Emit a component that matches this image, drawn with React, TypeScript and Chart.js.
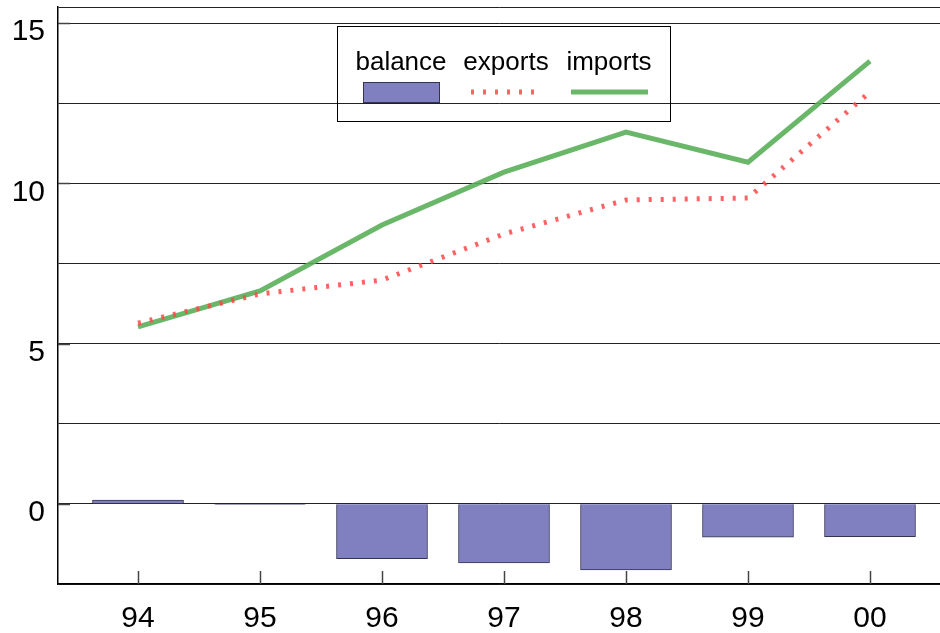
import React, { useEffect, useRef } from "react";
import { Chart, registerables } from "chart.js";

Chart.register(...registerables);

const categories = ["94", "95", "96", "97", "98", "99", "00"];
const balance = [0.12, -0.02, -1.71, -1.84, -2.06, -1.04, -1.02];
const exportsData = [5.64, 6.55, 6.98, 8.42, 9.48, 9.54, 12.85];
const importsData = [5.52, 6.64, 8.7, 10.35, 11.6, 10.66, 13.81];
const yTickLabels = [0, 5, 10, 15];
const yGridValues = [-2.5, 0, 2.5, 5, 7.5, 10, 12.5, 15, 15.5];

const FONT = "'Liberation Sans', Arial, sans-serif";

const legendPlugin = {
  id: "customLegend",
  afterDatasetsDraw(chart: any) {
    const ctx = chart.ctx;
    ctx.save();
    const xs = chart.scales.x;
    const ys = chart.scales.y;
    const area = chart.chartArea;
    ctx.strokeStyle = "#444";
    ctx.lineWidth = 1.5;
    categories.forEach((_, i) => {
      const px = Math.round(xs.getPixelForValue(i)) + 0.5;
      ctx.beginPath();
      ctx.moveTo(px, area.bottom);
      ctx.lineTo(px, area.bottom - 13);
      ctx.stroke();
    });
    yTickLabels.forEach((v) => {
      const py = Math.round(ys.getPixelForValue(v)) + 0.5;
      ctx.beginPath();
      ctx.moveTo(area.left, py);
      ctx.lineTo(area.left + 12, py);
      ctx.stroke();
    });
    ctx.strokeStyle = "#000";
    ctx.lineWidth = 1;
    ctx.strokeRect(337.5, 26.5, 333, 95);
    ctx.fillStyle = "#000";
    ctx.font = `26px ${FONT}`;
    ctx.textAlign = "center";
    ctx.textBaseline = "alphabetic";
    const names = ["balance", "exports", "imports"];
    const centers = [401, 506, 609];
    names.forEach((n, i) => ctx.fillText(n, centers[i], 70));
    ctx.fillStyle = "#8080c0";
    ctx.fillRect(363, 82, 76, 20);
    ctx.strokeStyle = "#333355";
    ctx.lineWidth = 1;
    ctx.strokeRect(363.5, 82.5, 76, 20);
    ctx.strokeStyle = "rgba(255,70,70,0.85)";
    ctx.lineWidth = 5;
    ctx.setLineDash([3, 9]);
    ctx.beginPath();
    ctx.moveTo(471, 92);
    ctx.lineTo(543, 92);
    ctx.stroke();
    ctx.setLineDash([]);
    ctx.strokeStyle = "rgba(90,175,90,0.9)";
    ctx.lineWidth = 5;
    ctx.beginPath();
    ctx.moveTo(571, 92);
    ctx.lineTo(648, 92);
    ctx.stroke();
    ctx.restore();
  },
};

export default function App() {
  const ref = useRef<HTMLCanvasElement>(null);
  useEffect(() => {
    const canvas = ref.current!;
    const chart = new Chart(canvas, {
      type: "bar",
      data: {
        datasets: [
          {
            type: "bar",
            label: "balance",
            data: balance.map((v, i) => ({ x: i, y: v })),
            backgroundColor: "#8080c0",
            borderColor: "#333355",
            borderWidth: 1,
            barThickness: 91,
            order: 3,
          } as any,
          {
            type: "line",
            label: "imports",
            data: importsData.map((v, i) => ({ x: i, y: v })),
            borderColor: "rgba(90,175,90,0.9)",
            borderWidth: 5,
            pointRadius: 0,
            tension: 0,
            fill: false,
            order: 2,
          },
          {
            type: "line",
            label: "exports",
            data: exportsData.map((v, i) => ({ x: i, y: v })),
            borderColor: "rgba(255,70,70,0.85)",
            borderWidth: 5,
            borderDash: [3, 9],
            pointRadius: 0,
            tension: 0,
            fill: false,
            order: 1,
          },
        ],
      },
      options: {
        animation: false,
        responsive: false,
        devicePixelRatio: 1,
        layout: { padding: { top: 7, left: 0, right: 0, bottom: 0 } },
        plugins: {
          legend: { display: false },
          tooltip: { enabled: false },
        },
        scales: {
          x: {
            type: "linear",
            offset: false,
            min: -(138 - 58) / 122,
            max: (940 - 138) / 122,
            grid: { display: false, drawTicks: false, offset: false },
            border: { display: true, color: "#000", width: 1.5 },
            afterBuildTicks: (s: any) => {
              s.ticks = categories.map((_, i) => ({ value: i }));
            },
            ticks: {
              autoSkip: false,
              maxRotation: 0,
              padding: 17,
              color: "#000",
              font: { family: FONT, size: 30 },
              callback: (v: any) => {
                const n = Math.round(Number(v));
                return n >= 0 && n < categories.length ? categories[n] : "";
              },
            },
            afterFit: (s: any) => {
              s.height = 49;
              s.paddingLeft = 0;
              s.paddingRight = 0;
            },
          },
          y: {
            type: "linear",
            min: -2.5,
            max: 15.5,
            grid: { color: "#222", lineWidth: 1, drawTicks: false },
            border: { display: true, color: "#000", width: 1.5 },
            afterBuildTicks: (s: any) => {
              s.ticks = yGridValues.map((v) => ({ value: v }));
            },
            ticks: {
              autoSkip: false,
              padding: 13,
              labelOffset: 9,
              color: "#000",
              font: { family: FONT, size: 30 },
              callback: (v: any) => {
                const n = Number(v);
                return yTickLabels.includes(n) ? String(n) : "";
              },
            },
            afterFit: (s: any) => {
              s.width = 58;
              s.paddingTop = 0;
              s.paddingBottom = 0;
            },
          },
        },
      },
      plugins: [legendPlugin],
    });
    return () => chart.destroy();
  }, []);
  return (
    <div style={{ position: "fixed", left: 0, top: 0, width: 940, height: 633, background: "#fff" }}>
      <canvas ref={ref} width={940} height={633} style={{ display: "block" }} />
    </div>
  );
}
